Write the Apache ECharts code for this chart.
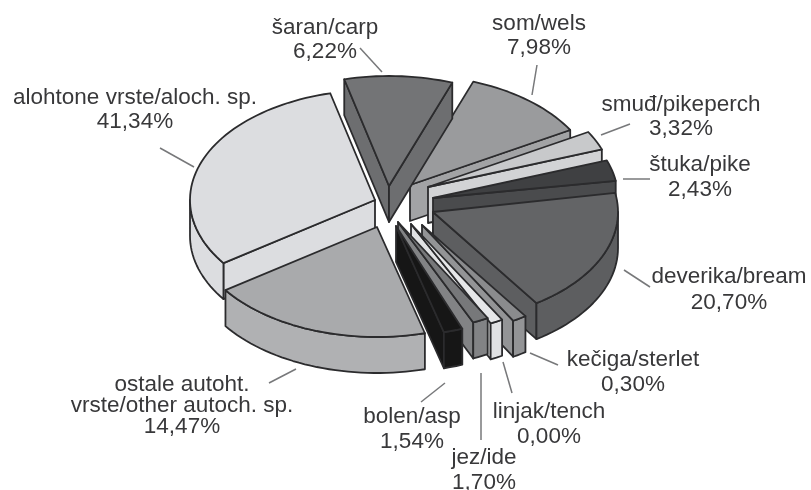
<!DOCTYPE html>
<html>
<head>
<meta charset="utf-8">
<style>
html, body { margin: 0; padding: 0; background: #fff; }
#myChart { width: 811px; height: 490px; }
</style>
<script src="https://cdn.jsdelivr.net/npm/echarts@6/dist/echarts.min.js"></script>
</head>
<body>
<div id="myChart"></div>
<script>
// printed shares
const names = ['šaran/carp', 'som/wels', 'smuđ/pikeperch', 'štuka/pike', 'deverika/bream', 'kečiga/sterlet',
    'linjak/tench', 'jez/ide', 'bolen/asp', 'ostale autoht.\nvrste/other autoch. sp.', 'alohtone vrste/aloch. sp.'];
const values = [6.22, 7.98, 3.32, 2.43, 20.70, 0.30, 0.00, 1.70, 1.54, 14.47, 41.34];

// the drawn slices don't follow the printed shares, so angles are read off the picture
// degrees clockwise from north
const sliceStart = [346, 20, 60, 70, 80, 146, 150.5, 151, 159, 165, 235];
const sliceSweep = [34, 40, 10, 11, 66, 4.5, 4, 5, 6, 70, 111];

// styles and layout
const topColors = ['#737476', '#9a9b9d', '#c8c9cb', '#3f4042', '#636466', '#8a8b8d', '#e6e7e9', '#77787a', '#161616', '#a9aaac', '#dcdde0'];
const wallColors = ['#6d6e70', '#a2a3a5', '#d2d3d5', '#4a4b4d', '#5d5e60', '#939496', '#e0e1e3', '#828385', '#161616', '#b0b1b3', '#dcdde0'];
const explodeX = [-11, 10, 28, 33, 33, 22, 11, -2, -4, -23, -25];
const explodeY = [-26, -27, -25, -14, 0, 13, 12, 10, 14, 15, -12];
const drawOrder = [1, 2, 3, 4, 5, 6, 7, 10, 0, 9, 8];
const labelX = [325, 539, 681, 700, 729, 633, 549, 484, 412, 182, 135];
const labelY = [28, 24, 105, 165, 277, 360, 412, 458, 417, 385, 98];
const labelLine = [24, 24, 24, 25, 26, 25, 25, 25, 25, 21, 24];
const leaders = [
    [360, 48, 382, 72], [537, 65, 532, 95], [630, 124, 601, 135], [650, 179, 623, 179],
    [650, 287, 624, 270], [558, 365, 530, 353], [512, 393, 503, 362], [481, 440, 481, 373],
    [421, 402, 445, 383], [269, 383, 296, 369], [160, 148, 194, 167]
];

const centerX = 400;
const centerY = 212;
const radiusX = 185;
const radiusY = 110;
const depth = 36;
const lineColor = '#2b2b2d';

function rimPoint (i, deg) {
    let a = deg * Math.PI / 180;
    return [
        centerX + explodeX[i] + radiusX * Math.sin(a),
        centerY + explodeY[i] - radiusY * Math.cos(a)
    ];
}

function drop (p) {
    return [p[0], p[1] + depth];
}

function arcPoints (i, from, to) {
    let pts = [];
    let steps = Math.max(2, Math.ceil((to - from) / 2));
    for (let s = 0; s <= steps; s++) {
        pts.push(rimPoint(i, from + (to - from) * s / steps));
    }
    return pts;
}

function poly (points, fill) {
    return {
        type: 'polygon',
        shape: {points: points},
        style: {fill: fill, stroke: lineColor, lineWidth: 1.8, lineJoin: 'round'}
    };
}

function renderSlice (params, api) {
    let i = api.value(0);
    let start = sliceStart[i];
    let end = start + sliceSweep[i];
    let apex = [centerX + explodeX[i], centerY + explodeY[i]];
    let children = [];

    // radial walls, only those turned towards the viewer
    let a1 = rimPoint(i, start);
    let a2 = rimPoint(i, end);
    if (-Math.cos((start - 90) * Math.PI / 180) > 0) {
        children.push(poly([apex, a1, drop(a1), drop(apex)], wallColors[i]));
    }
    if (-Math.cos((end + 90) * Math.PI / 180) > 0) {
        children.push(poly([apex, a2, drop(a2), drop(apex)], wallColors[i]));
    }

    // outer wall on the near half of the rim
    let from = Math.max(start, 90);
    let to = Math.min(end, 270);
    if (to > from) {
        let arc = arcPoints(i, from, to);
        children.push(poly(arc.concat(arc.slice().reverse().map(drop)), wallColors[i]));
    }

    children.push(poly([apex].concat(arcPoints(i, start, end)), topColors[i]));
    return {type: 'group', children: children};
}

function labelText (i) {
    return names[i] + '\n' + values[i].toFixed(2).replace('.', ',') + '%';
}

const graphics = [];
leaders.forEach((l) => {
    graphics.push({
        type: 'line',
        silent: true,
        shape: {x1: l[0], y1: l[1], x2: l[2], y2: l[3]},
        style: {stroke: '#77787a', lineWidth: 1.5}
    });
});
names.forEach((n, i) => {
    graphics.push({
        type: 'text',
        silent: true,
        x: labelX[i],
        y: labelY[i] - labelLine[i] / 2,
        style: {
            text: labelText(i),
            fill: '#38383a',
            font: '22.5px "Liberation Sans", Arial, sans-serif',
            lineHeight: labelLine[i],
            align: 'center',
            verticalAlign: 'top'
        }
    });
});

const myChart = echarts.init(document.getElementById('myChart'), null, {renderer: 'canvas'});
myChart.setOption({
    animation: false,
    backgroundColor: '#fff',
    graphic: {elements: graphics},
    xAxis: {show: false, type: 'value'},
    yAxis: {show: false, type: 'value'},
    series: [{
        type: 'custom',
        coordinateSystem: 'none',
        silent: true,
        renderItem: renderSlice,
        data: drawOrder.map((i) => [i, values[i]])
    }]
});
</script>
</body>
</html>
